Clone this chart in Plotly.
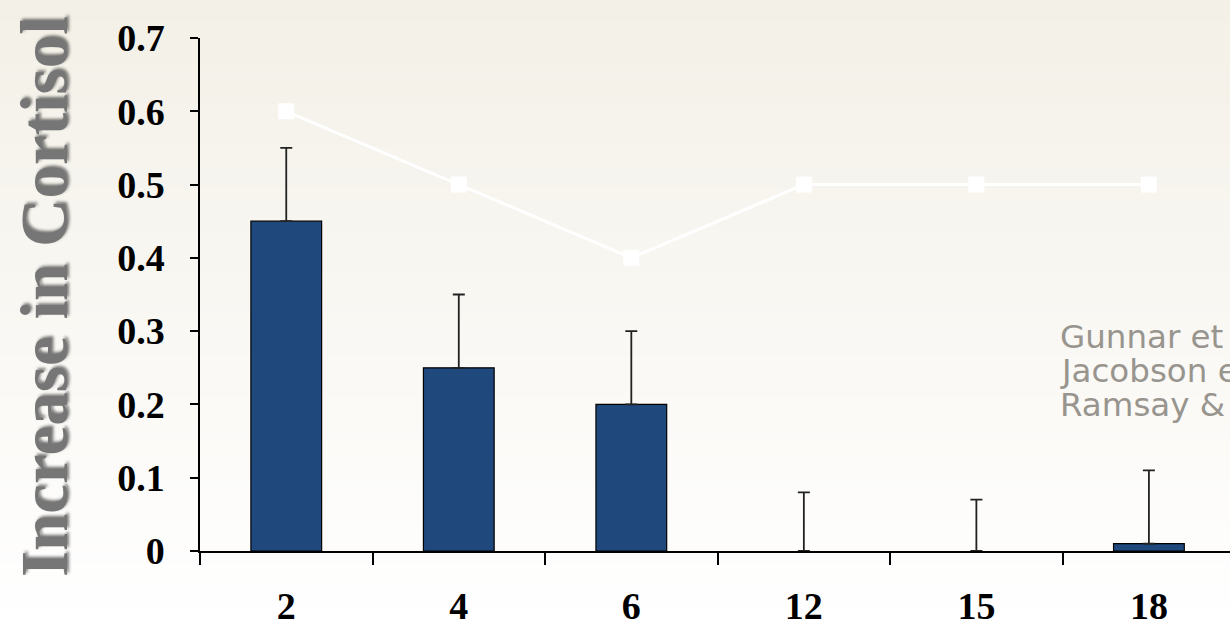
import plotly.graph_objects as go

# Age groups (months) and cortisol responses
ages = ["2", "4", "6", "12", "15", "18"]
cortisol_increase = [0.45, 0.25, 0.20, 0.0, 0.0, 0.01]
cortisol_error = [0.10, 0.10, 0.10, 0.08, 0.07, 0.10]
reference_line = [0.6, 0.5, 0.4, 0.5, 0.5, 0.5]
y_ticks = [0, 0.1, 0.2, 0.3, 0.4, 0.5, 0.6, 0.7]
y_tick_labels = ["0", "0.1", "0.2", "0.3", "0.4", "0.5", "0.6", "0.7"]
sources = ["Gunnar et al.", "Jacobson et al.", "Ramsay & Lewis"]

W, H = 1230, 627
ML, MR, MT, MB = 200, 0, 38, 76
plot_w = W - ML - MR
plot_h = H - MT - MB

serif = "Liberation Serif"

# zero-height bars get no outline so only their error whisker shows
outline_widths = [1.2 if v > 0 else 0 for v in cortisol_increase]

fig = go.Figure()

fig.add_trace(go.Bar(
    x=ages,
    y=cortisol_increase,
    width=0.41,
    marker=dict(color="#1F497D", line=dict(color="#000000", width=outline_widths)),
    error_y=dict(
        type="data",
        symmetric=False,
        array=cortisol_error,
        arrayminus=[0] * len(cortisol_error),
        color="#222222",
        thickness=1.8,
        width=6,
    ),
    showlegend=False,
))

fig.add_trace(go.Scatter(
    x=ages,
    y=reference_line,
    mode="lines+markers",
    line=dict(color="#FFFFFF", width=3),
    marker=dict(symbol="square", size=16, color="#FFFFFF"),
    showlegend=False,
))

# vertical beige-to-white background gradient
shapes = []
n_bands = 60
top = (243, 240, 231)
bottom = (255, 255, 255)
x0p = -ML / plot_w
x1p = 1 + MR / plot_w + 0.01
for i in range(n_bands):
    t = i / (n_bands - 1)
    r = round(top[0] + (bottom[0] - top[0]) * t)
    g = round(top[1] + (bottom[1] - top[1]) * t)
    b = round(top[2] + (bottom[2] - top[2]) * t)
    ya = 1 + MT / plot_h - (H / plot_h) * i / n_bands
    yb = 1 + MT / plot_h - (H / plot_h) * (i + 1) / n_bands
    shapes.append(dict(
        type="rect", xref="paper", yref="paper",
        x0=x0p, x1=x1p, y0=yb - 0.002, y1=ya,
        fillcolor=f"rgb({r},{g},{b})", line=dict(width=0), layer="below",
    ))

annotations = [dict(
    text="Increase in Cortisol",
    xref="paper", yref="paper",
    x=(44 - ML) / plot_w, y=1 - (297 - MT) / plot_h,
    xanchor="center", yanchor="middle",
    textangle=-90, showarrow=False,
    font=dict(family=serif, size=67, color="#767676", weight="bold",
              shadow="2px 2px 3px rgba(0,0,0,0.5)"),
)]

for k, s in enumerate(sources):
    yc = 337 + 34 * k
    annotations.append(dict(
        text=s, xref="paper", yref="paper",
        x=(1058 - ML) / plot_w, y=1 - (yc - MT) / plot_h,
        xanchor="left", yanchor="middle", showarrow=False,
        font=dict(family="DejaVu Sans", size=32.5, color="#98948E"),
    ))

fig.update_layout(
    width=W, height=H,
    margin=dict(l=ML, r=MR, t=MT, b=MB, pad=0),
    paper_bgcolor="#FBFAF6",
    plot_bgcolor="rgba(0,0,0,0)",
    shapes=shapes,
    annotations=annotations,
    xaxis=dict(
        type="category",
        range=[-0.5, 5.47],
        showgrid=False, zeroline=False,
        showline=True, linecolor="#000000", linewidth=1.5,
        ticks="outside", tickson="boundaries", ticklen=12, tickwidth=1.5, tickcolor="#000000",
        tickfont=dict(family=serif, size=38, color="#000000", weight="bold"),
        ticklabelstandoff=21,
    ),
    yaxis=dict(
        range=[0, 0.7],
        tickvals=y_ticks, ticktext=y_tick_labels,
        showgrid=False, zeroline=False,
        showline=True, linecolor="#000000", linewidth=1.5,
        ticks="outside", ticklen=8, tickwidth=1.5, tickcolor="#000000",
        tickfont=dict(family=serif, size=38, color="#000000", weight="bold"),
        ticklabelstandoff=18,
    ),
)

fig.write_html("out.html")
